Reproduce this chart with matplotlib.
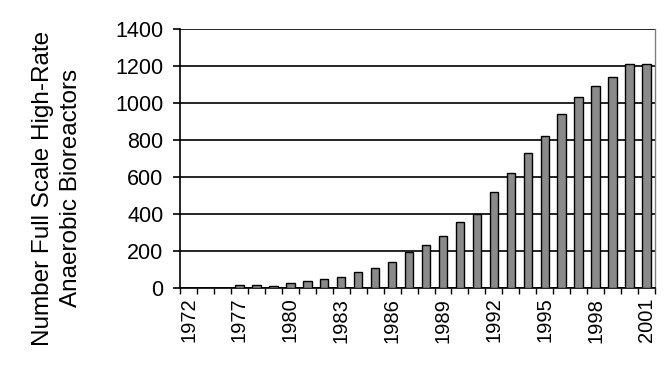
import matplotlib
matplotlib.use("Agg")
import matplotlib.pyplot as plt
import numpy as np

plt.rcParams['font.family'] = ['Liberation Sans', 'DejaVu Sans']

years = ["1972", "1974", "1976", "1977", "1978", "1979", "1980", "1981", "1982",
         "1983", "1984", "1985", "1986", "1987", "1988", "1989", "1990", "1991",
         "1992", "1993", "1994", "1995", "1996", "1997", "1998", "1999", "2000", "2001"]
counts = [0, 0, 0, 14, 14, 12, 29, 40, 49, 61, 88, 108, 142, 195, 234, 281, 357, 402,
          519, 622, 732, 823, 940, 1032, 1090, 1139, 1212, 1212]
shown_labels = ["1972", "1977", "1980", "1983", "1986", "1989", "1992", "1995", "1998", "2001"]
yticks = [0, 200, 400, 600, 800, 1000, 1200, 1400]

fig = plt.figure(figsize=(6.67, 3.84), dpi=100)
ax = fig.add_axes([0.27, 0.25, 0.712, 0.674])

x = np.arange(len(years))
ax.set_axisbelow(True)
ax.yaxis.grid(True, color='black', linewidth=1.2)
ax.bar(x, counts, width=0.5, color='#8a8a8a', edgecolor='black', linewidth=1.0, zorder=3)

ax.set_xlim(-0.5, len(years) - 0.5)
ax.set_ylim(0, 1400)
ax.set_yticks(yticks)
ax.set_yticklabels([str(v) for v in yticks], fontsize=15.5)
ax.tick_params(axis='y', length=5, width=1.2, pad=7)

label_pos = [years.index(l) for l in shown_labels]
ax.set_xticks(label_pos)
ax.set_xticklabels(shown_labels, rotation=90, fontsize=14.5)
ax.tick_params(axis='x', which='major', length=0, pad=7)
ax.set_xticks(np.arange(len(years) + 1) - 0.5, minor=True)
ax.tick_params(axis='x', which='minor', length=4, width=1.0)

for s in ['left', 'bottom']:
    ax.spines[s].set_linewidth(1.2)
    ax.spines[s].set_color('black')
ax.spines['top'].set_visible(False)
ax.spines['right'].set_color('#808080')
ax.spines['right'].set_linewidth(1.0)

fig.text(57 / 667, 1 - 188 / 384, "Number Full Scale High-Rate\nAnaerobic Bioreactors",
         rotation=90, ha='center', va='center', fontsize=17.5, linespacing=1.3,
         multialignment='center')

fig.savefig("out.png", dpi=100)
